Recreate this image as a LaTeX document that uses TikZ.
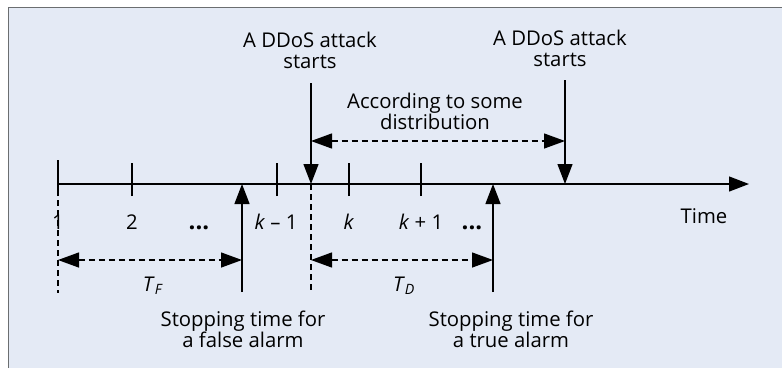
\documentclass[tikz,border=0pt]{standalone}
\usepackage{fontspec}
\setmainfont{Open Sans}
\usetikzlibrary{arrows.meta}
\definecolor{panel}{HTML}{E4EAF5}
\definecolor{framegray}{HTML}{6B6E70}
\begin{document}
\begin{tikzpicture}[x=1pt,y=-1pt,line width=1.3pt,
  head/.style={-{Triangle[length=20pt,width=15pt]}},
  twohead/.style={{Triangle[length=21pt,width=15pt]}-{Triangle[length=21pt,width=15pt]}},
  dsh/.style={dash pattern=on 6pt off 4pt},
  lbl/.style={font=\fontsize{20.3}{21}\selectfont,align=center,inner sep=0pt,anchor=base},
  dots/.style={font=\fontsize{24}{24}\selectfont\bfseries,inner sep=0pt,anchor=base}]
% panel with frame on the left and top edges
\useasboundingbox (0,0) rectangle (782,368);
\fill[panel] (8.5,7.5) rectangle (782,368);
\draw[framegray,line width=1.6pt] (8.5,368) -- (8.5,7.5) -- (782,7.5);

% time axis
\coordinate (ax0) at (58,184);
\coordinate (axE) at (749,184);
\draw[head] (ax0) -- (axE);

% ticks
\foreach \n/\x in {t1/58,t2/132,tk1/277,tk/349,tkp/421}{
  \coordinate (\n) at (\x,184);
  \draw ([yshift=-12pt]\n) -- ([yshift=21pt]\n);
}

% attack instants
\coordinate (atk1) at (311,184);
\coordinate (atk2) at (565,184);
\coordinate (atk1top) at (311,83);
\coordinate (atk2top) at (565,80);
\draw[head] (atk1top) -- (atk1);
\draw[head] (atk2top) -- (atk2);

% random gap between attacks
\coordinate (g1) at (311,141);
\coordinate (g2) at (565,141);
\draw[twohead,dsh] (g1) -- (g2);

% alarm instants
\coordinate (fa) at (242,184);
\coordinate (ta) at (493,184);
\coordinate (fabot) at (242,292);
\coordinate (tabot) at (493,292);
\draw[head] (fabot) -- (fa);
\draw[head] (tabot) -- (ta);

% guide lines below the axis
\coordinate (t1low) at (58,293);
\coordinate (atk1low) at (311,293);
\draw[dsh] ([yshift=24pt]t1) -- (t1low);
\draw[dsh] (atk1) -- (atk1low);

% delays
\coordinate (f1) at (58,260);
\coordinate (f2) at (242,260);
\coordinate (dd1) at (311,260);
\coordinate (dd2) at (493,260);
\draw[twohead,dsh] (f1) -- (f2);
\draw[twohead,dsh] (dd1) -- (dd2);

% labels (multi-line nodes are placed by the baseline of their last line)
\node[lbl] (time) at (704,223) {Time};
\node[lbl] (l1) at (58,229) {1};
\node[lbl] (l2) at (132,229) {2};
\node[dots] (d1) at (199,229) {...};
\node[lbl] (lk1) at (276,229) {\textit{k} – 1};
\node[lbl] (lk) at (349,229) {\textit{k}};
\node[lbl] (lkp) at (421,229) {\textit{k} + 1};
\node[dots] (d2) at (472,229) {...};
\node[lbl] (a1) at (310,68) {A DDoS attack\\starts};
\node[lbl] (a2) at (560,66) {A DDoS attack\\starts};
\node[lbl] (dist) at (435,129) {According to some\\distribution};
\node[lbl] (s1) at (243,347) {Stopping time for\\a false alarm};
\node[lbl] (s2) at (511,347) {Stopping time for\\a true alarm};
\node[lbl] (tf) at (153,291) {\textit{T}\textsubscript{\textit{F}}};
\node[lbl] (td) at (404,291) {\textit{T}\textsubscript{\textit{D}}};
\end{tikzpicture}
\end{document}
